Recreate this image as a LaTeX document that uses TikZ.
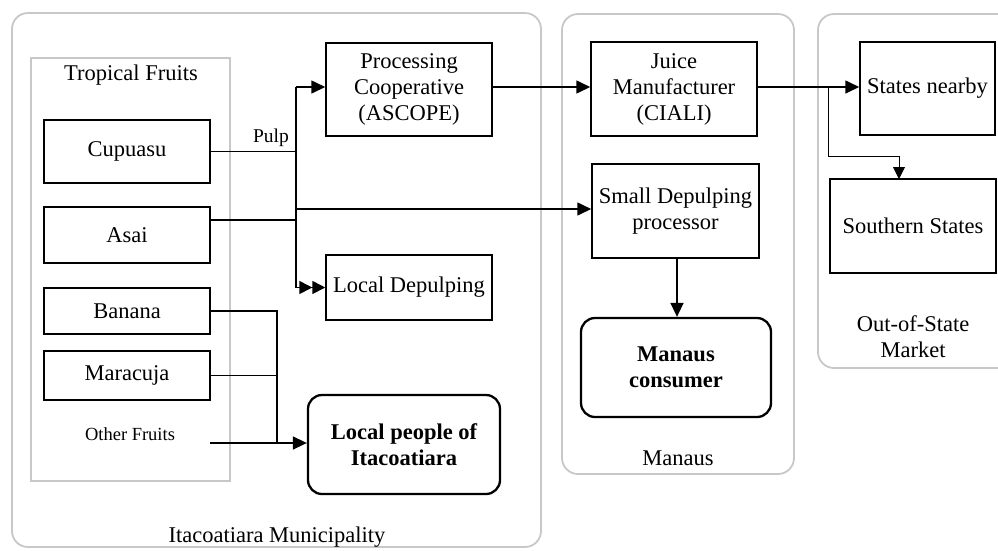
\documentclass[tikz,border=0pt]{standalone}
\usepackage{fontspec}
\setmainfont{Liberation Serif}
\usetikzlibrary{arrows.meta,calc}
\definecolor{framegray}{RGB}{200,200,200}
\begin{document}
\begin{tikzpicture}[x=1pt,y=-1pt,
  every node/.style={font=\fontsize{22.5}{26}\selectfont, inner sep=0pt, align=center},
  box/.style={draw, line width=1.5pt, rectangle},
  sink/.style={draw, line width=2.3pt, rounded corners=14pt,
    font=\fontsize{22.5}{26}\selectfont\bfseries},
  region/.style={draw=framegray, line width=1.8pt, rounded corners=16pt},
  group/.style={draw=framegray, line width=1.8pt},
  link/.style={line width=1.6pt},
  arr/.style={link, -{Triangle[length=14pt,width=13pt]}},
  arr2/.style={link, -{Triangle[length=13pt,width=13pt] Triangle[length=13pt,width=13pt]}},
  thinarr/.style={line width=0.9pt, -{Triangle[length=12pt,width=12pt]}},
]
\useasboundingbox (0,0) rectangle (998,550);
\clip (0,0) rectangle (998,550);

% regions
\draw[region] (12,13) rectangle (541,547);
\draw[region] (562,14) rectangle (794,474);
\draw[region] (818,14) rectangle (1030,368);
\draw[group] (31,58) rectangle (230,481);

\node (lblItac) at (277,537) {Itacoatiara Municipality};
\node (lblManaus) at (678,458) {Manaus};
\node (lblOut) at (913,337) {Out-of-State\\Market};
\node (lblTrop) at (131,75) {Tropical Fruits};

% fruits
\node[box, minimum width=166pt, minimum height=63pt] (cupuasu) at (127,151.5) {Cupuasu};
\node[box, minimum width=166pt, minimum height=56pt] (asai) at (127,235) {Asai};
\node[box, minimum width=166pt, minimum height=46pt] (banana) at (127,311) {Banana};
\node[box, minimum width=166pt, minimum height=49pt] (maracuja) at (127,375.5) {Maracuja};
\node[font=\fontsize{18.5}{22}\selectfont] (other) at (130,434) {Other Fruits};

% processors and consumers
\node[box, minimum width=166pt, minimum height=93pt] (coop) at (409,89.5) {Processing\\Cooperative\\(ASCOPE)};
\node[box, minimum width=166pt, minimum height=65pt] (localdep) at (409,287.5) {Local Depulping};
\node[sink, minimum width=192pt, minimum height=99pt] (localppl) at (404,444.5) {Local people of\\Itacoatiara};
\node[box, minimum width=166pt, minimum height=94pt] (juice) at (674,89) {Juice\\Manufacturer\\(CIALI)};
\node[box, minimum width=167pt, minimum height=94pt] (smalldep) at (675.5,211) {Small Depulping\\processor};
\node[sink, minimum width=190pt, minimum height=99pt] (manaus) at (676,367.5) {Manaus\\consumer};
\node[box, minimum width=135pt, minimum height=93pt] (nearby) at (927.5,88.5) {States nearby};
\node[box, minimum width=166pt, minimum height=94pt] (south) at (913,226) {Southern States};

% pulp trunk
\coordinate (trtop) at (296,87);
\coordinate (trbot) at (296,287.5);
\draw[link] (trtop) -- (trbot);
\draw[link] (cupuasu.east) -- (cupuasu.east -| trtop);
\node[font=\fontsize{19.5}{22}\selectfont] (pulp) at (271,138) {Pulp};
\coordinate (asaiout) at ($(asai.north east)+(0,14)$);
\draw[link] (asaiout) -- (asaiout -| trtop);
\draw[arr] (trtop) -- (trtop -| coop.west);
\draw[arr] (trtop |- 0,209) -- (smalldep.west |- 0,209);
\draw[arr2] (trbot) -- (localdep.west);

% fresh fruit to local people
\coordinate (ftrunk) at (277,311);
\coordinate (otherout) at (210,443);
\draw[link] (banana.east) -- (ftrunk) -- (ftrunk |- otherout);
\draw[link] (maracuja.east) -- (maracuja.east -| ftrunk);
\draw[arr] (otherout) -- (otherout -| localppl.west);

% onward flows
\draw[arr] (trtop -| coop.east) -- (trtop -| juice.west);
\draw[arr] (trtop -| juice.east) -- (trtop -| nearby.west);
\coordinate (branch) at (828,87);
\coordinate (southin) at (899,179);
\draw[thinarr] (branch) |- (899,156) -- (southin);
\draw[arr] (smalldep.south -| 677,0) -- (manaus.north -| 677,0);
\end{tikzpicture}
\end{document}
